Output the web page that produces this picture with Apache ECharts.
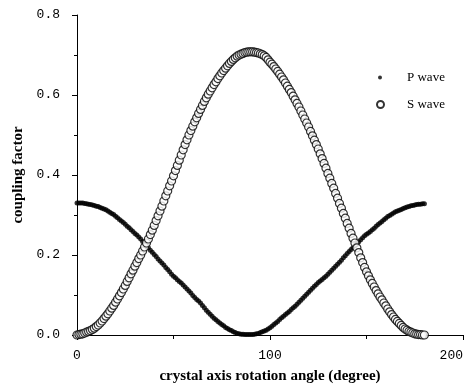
<!DOCTYPE html>
<html>
<head>
<meta charset="utf-8">
<script src="https://cdn.jsdelivr.net/npm/echarts@6/dist/echarts.min.js"></script>
<style>
  html, body { margin: 0; padding: 0; background: #fff; }
  #chart-container { width: 471px; height: 385px; }
</style>
</head>
<body>
<div id="chart-container"></div>
<script>
// 旋转角度（度）
const angles = [
  0, 1, 2, 3, 4, 5, 6, 7, 8, 9, 10, 11, 12, 13, 14, 15, 16, 17, 18, 19,
  20, 21, 22, 23, 24, 25, 26, 27, 28, 29, 30, 31, 32, 33, 34, 35, 36, 37, 38, 39,
  40, 41, 42, 43, 44, 45, 46, 47, 48, 49, 50, 51, 52, 53, 54, 55, 56, 57, 58, 59,
  60, 61, 62, 63, 64, 65, 66, 67, 68, 69, 70, 71, 72, 73, 74, 75, 76, 77, 78, 79,
  80, 81, 82, 83, 84, 85, 86, 87, 88, 89, 90, 91, 92, 93, 94, 95, 96, 97, 98, 99,
  100, 101, 102, 103, 104, 105, 106, 107, 108, 109, 110, 111, 112, 113, 114, 115, 116, 117, 118, 119,
  120, 121, 122, 123, 124, 125, 126, 127, 128, 129, 130, 131, 132, 133, 134, 135, 136, 137, 138, 139,
  140, 141, 142, 143, 144, 145, 146, 147, 148, 149, 150, 151, 152, 153, 154, 155, 156, 157, 158, 159,
  160, 161, 162, 163, 164, 165, 166, 167, 168, 169, 170, 171, 172, 173, 174, 175, 176, 177, 178, 179,
  180
];

// P 波耦合系数
const pWave = [
  0.330, 0.330, 0.330, 0.330, 0.329, 0.328, 0.327, 0.326, 0.325, 0.324,
  0.322, 0.321, 0.319, 0.317, 0.315, 0.313, 0.310, 0.307, 0.304, 0.301,
  0.297, 0.293, 0.289, 0.285, 0.281, 0.277, 0.272, 0.268, 0.263, 0.259,
  0.254, 0.250, 0.245, 0.240, 0.234, 0.229, 0.223, 0.218, 0.212, 0.207,
  0.201, 0.196, 0.190, 0.185, 0.180, 0.175, 0.169, 0.164, 0.158, 0.152,
  0.147, 0.143, 0.138, 0.134, 0.130, 0.125, 0.120, 0.115, 0.110, 0.105,
  0.099, 0.094, 0.089, 0.085, 0.080, 0.074, 0.068, 0.062, 0.057, 0.052,
  0.047, 0.042, 0.038, 0.034, 0.030, 0.026, 0.023, 0.019, 0.016, 0.013,
  0.011, 0.008, 0.006, 0.004, 0.003, 0.002, 0.002, 0.001, 0.001, 0.001,
  0.001, 0.001, 0.002, 0.003, 0.004, 0.006, 0.008, 0.010, 0.012, 0.015,
  0.018, 0.022, 0.026, 0.030, 0.034, 0.039, 0.043, 0.047, 0.051, 0.055,
  0.059, 0.064, 0.068, 0.072, 0.077, 0.082, 0.087, 0.092, 0.097, 0.102,
  0.107, 0.112, 0.117, 0.122, 0.126, 0.131, 0.135, 0.139, 0.143, 0.147,
  0.152, 0.157, 0.162, 0.167, 0.172, 0.177, 0.182, 0.187, 0.193, 0.198,
  0.204, 0.209, 0.214, 0.219, 0.224, 0.228, 0.233, 0.238, 0.243, 0.248,
  0.252, 0.255, 0.259, 0.263, 0.267, 0.272, 0.276, 0.280, 0.284, 0.288,
  0.292, 0.296, 0.299, 0.302, 0.305, 0.308, 0.310, 0.312, 0.314, 0.316,
  0.318, 0.320, 0.321, 0.323, 0.324, 0.325, 0.326, 0.327, 0.327, 0.328,
  0.328
];

// S 波耦合系数
const sWave = [
  0.000, 0.001, 0.002, 0.003, 0.005, 0.007, 0.009, 0.011, 0.014, 0.017,
  0.021, 0.025, 0.030, 0.035, 0.041, 0.047, 0.053, 0.060, 0.067, 0.074,
  0.082, 0.090, 0.098, 0.106, 0.115, 0.124, 0.134, 0.143, 0.153, 0.162,
  0.172, 0.181, 0.191, 0.200, 0.210, 0.220, 0.230, 0.240, 0.251, 0.262,
  0.274, 0.286, 0.298, 0.310, 0.322, 0.335, 0.348, 0.360, 0.373, 0.385,
  0.398, 0.411, 0.424, 0.437, 0.450, 0.463, 0.476, 0.488, 0.500, 0.511,
  0.522, 0.533, 0.543, 0.554, 0.564, 0.574, 0.584, 0.593, 0.602, 0.610,
  0.618, 0.626, 0.633, 0.641, 0.648, 0.655, 0.661, 0.667, 0.673, 0.679,
  0.684, 0.689, 0.693, 0.697, 0.700, 0.702, 0.704, 0.706, 0.707, 0.708,
  0.708, 0.708, 0.707, 0.706, 0.705, 0.703, 0.701, 0.698, 0.694, 0.688,
  0.682, 0.677, 0.671, 0.665, 0.659, 0.652, 0.645, 0.638, 0.630, 0.622,
  0.614, 0.606, 0.597, 0.588, 0.579, 0.570, 0.560, 0.550, 0.540, 0.530,
  0.520, 0.509, 0.498, 0.487, 0.476, 0.465, 0.453, 0.441, 0.429, 0.417,
  0.404, 0.392, 0.379, 0.367, 0.354, 0.342, 0.329, 0.317, 0.304, 0.292,
  0.279, 0.267, 0.254, 0.242, 0.230, 0.218, 0.206, 0.193, 0.181, 0.169,
  0.158, 0.148, 0.138, 0.129, 0.120, 0.111, 0.103, 0.095, 0.088, 0.080,
  0.073, 0.065, 0.058, 0.051, 0.045, 0.039, 0.034, 0.029, 0.024, 0.019,
  0.015, 0.012, 0.009, 0.007, 0.005, 0.003, 0.002, 0.001, 0.001, 0.000,
  0.000
];

// 坐标轴范围与刻度
const xRange = [0, 200];
const xStep = 100;
const yRange = [0, 0.8];
const yStep = 0.2;

const pData = angles.map((a, i) => [a, pWave[i]]);
const sData = angles.map((a, i) => [a, sWave[i]]);

const serif = '"Liberation Serif", "Times New Roman", serif';
const mono = '"Liberation Mono", monospace';

const chart = echarts.init(document.getElementById('chart-container'));

const option = {
  animation: false,
  backgroundColor: '#fff',
  // 关闭 v6 的自动外边界收缩，保持固定绘图区
  grid: { left: 77, right: 8, top: 15, bottom: 50, outerBoundsMode: 'none' },
  legend: [
    {
      data: ['P wave'],
      left: 373, top: 66,
      itemWidth: 4, itemHeight: 4,
      icon: 'circle',
      textStyle: { fontFamily: serif, fontSize: 13, color: '#000', padding: [0, 0, 0, 20] }
    },
    {
      data: ['S wave'],
      left: 371, top: 93,
      itemWidth: 7, itemHeight: 8,
      icon: 'circle',
      textStyle: { fontFamily: serif, fontSize: 13, color: '#000', padding: [0, 0, 0, 18] }
    }
  ],
  xAxis: {
    type: 'value',
    min: xRange[0], max: xRange[1], interval: xStep,
    name: 'crystal axis rotation angle (degree)',
    nameLocation: 'middle',
    nameGap: 34,
    nameTextStyle: { fontFamily: serif, fontSize: 15, fontWeight: 'bold', color: '#000' },
    axisLine: { lineStyle: { color: '#000', width: 1 } },
    axisTick: { length: 5, lineStyle: { color: '#000' } },
    minorTick: { show: true, splitNumber: 2, length: 4, lineStyle: { color: '#000' } },
    axisLabel: { fontFamily: mono, fontSize: 13, color: '#000', margin: 14, alignMaxLabel: 'right' },
    splitLine: { show: false }
  },
  yAxis: {
    type: 'value',
    min: yRange[0], max: yRange[1], interval: yStep,
    name: 'coupling factor',
    nameLocation: 'middle',
    nameGap: 50,
    nameTextStyle: { fontFamily: serif, fontSize: 15, fontWeight: 'bold', color: '#000' },
    axisLine: { show: true, lineStyle: { color: '#000', width: 1 } },
    axisTick: { show: true, length: 5, lineStyle: { color: '#000' } },
    minorTick: { show: true, splitNumber: 2, length: 3, lineStyle: { color: '#000' } },
    axisLabel: {
      fontFamily: mono, fontSize: 13, color: '#000', margin: 17,
      formatter: v => v.toFixed(1)
    },
    splitLine: { show: false }
  },
  series: [
    {
      name: 'P wave',
      type: 'scatter',
      data: pData,
      symbol: 'circle',
      symbolSize: 5,
      itemStyle: { color: '#000' },
      emphasis: { disabled: true }
    },
    {
      name: 'S wave',
      type: 'scatter',
      data: sData,
      symbol: 'circle',
      symbolSize: 8,
      itemStyle: { color: '#fff', borderColor: '#000', borderWidth: 1.2 },
      emphasis: { disabled: true }
    }
  ]
};

chart.setOption(option);
</script>
</body>
</html>
